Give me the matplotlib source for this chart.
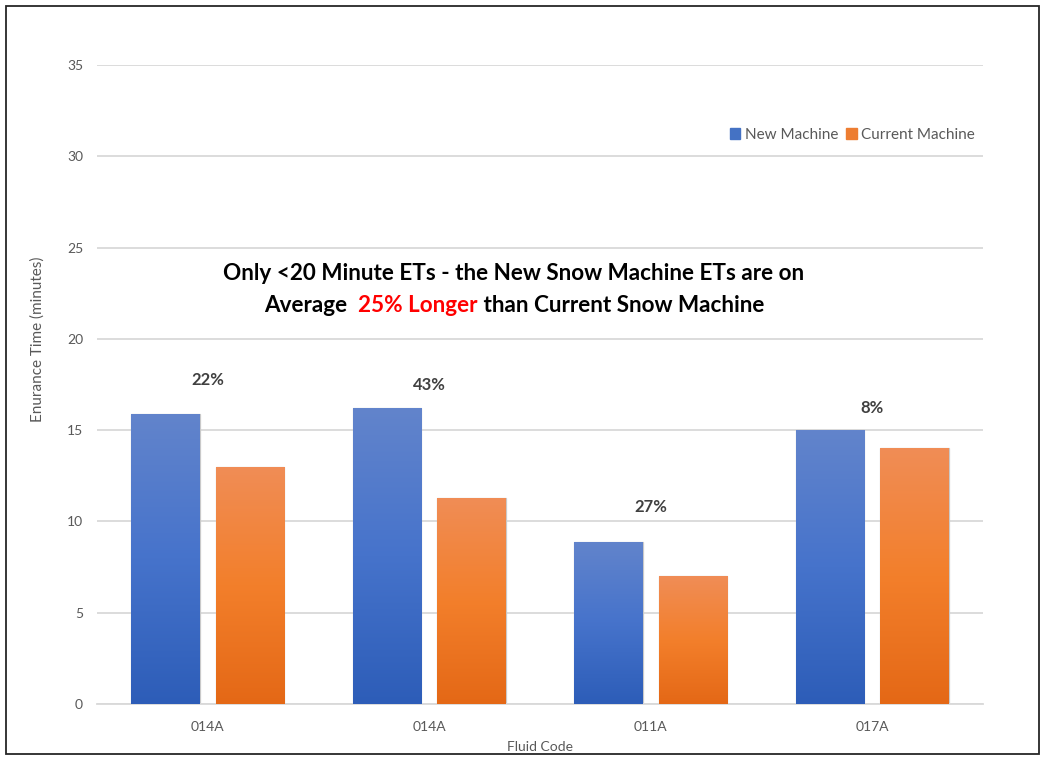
import numpy as np
import matplotlib
matplotlib.use("Agg")
import matplotlib.pyplot as plt
from matplotlib.colors import LinearSegmentedColormap
from matplotlib.patches import Rectangle

# Endurance times (minutes) per fluid code
fluid_codes = ["014A", "014A", "011A", "017A"]
new_machine = [15.9, 16.2, 8.9, 15.0]
current_machine = [13.0, 11.3, 7.0, 14.0]
improvement_labels = ["22%", "43%", "27%", "8%"]
y_ticks = [0, 5, 10, 15, 20, 25, 30, 35]
series_names = ["New Machine", "Current Machine"]

# vertical lift of each percentage label above its blue bar (points)
label_lift_pt = [24, 17, 25, 16]

plt.rcParams['font.family'] = ['Lato', 'DejaVu Sans']

W, H = 1042, 757
fig = plt.figure(figsize=(W / 100, H / 100), dpi=100)
ax = fig.add_axes([97 / W, 1 - 704 / H, (983 - 97) / W, (704 - 65) / H])

blue_cmap = LinearSegmentedColormap.from_list("blue", ["#2d5db8", "#4673cb", "#6284cc"])
orange_cmap = LinearSegmentedColormap.from_list("orange", ["#e46816", "#f37f2b", "#f08d56"])

x = np.arange(len(fluid_codes))
bar_w = 0.31
offset = 0.19


def gradient_bars(xpos, heights, cmap, face):
    bars = ax.bar(xpos, heights, width=bar_w, color=face, edgecolor="#c9c9c9",
                  linewidth=0.9, zorder=2)
    grad = np.linspace(0, 1, 256).reshape(-1, 1)
    for b in bars:
        x0, y0 = b.get_x(), b.get_y()
        w, h = b.get_width(), b.get_height()
        im = ax.imshow(grad, cmap=cmap, origin="lower", aspect="auto",
                       extent=(x0, x0 + w, y0, y0 + h), zorder=3)
        im.set_clip_path(b)
    return bars


gradient_bars(x - offset, new_machine, blue_cmap, "#4472c4")
gradient_bars(x + offset, current_machine, orange_cmap, "#ed7d31")

ax.set_xlim(-0.5, len(fluid_codes) - 0.5)
ax.set_ylim(0, 35)
ax.set_yticks(y_ticks)
ax.set_xticks(x)
ax.set_xticklabels(fluid_codes)

ax.yaxis.grid(True, color="#d9d9d9", linewidth=1.3, zorder=0)
ax.set_axisbelow(True)
for side in ["top", "right", "left"]:
    ax.spines[side].set_visible(False)
ax.spines["bottom"].set_color("#d9d9d9")
ax.spines["bottom"].set_linewidth(1.3)
ax.tick_params(axis="both", length=0, colors="#595959", labelsize=10)
ax.tick_params(axis="y", pad=10)
ax.tick_params(axis="x", pad=12)

ax.set_xlabel("Fluid Code", color="#595959", fontsize=10, labelpad=6)
ax.set_ylabel("Enurance Time (minutes)", color="#595959", fontsize=11)
ax.yaxis.set_label_coords(-52 / 886, (704 - 339) / (704 - 65))

# percentage improvement labels above each group
for xi, val, txt, lift in zip(x, new_machine, improvement_labels, label_lift_pt):
    ax.annotate(txt, xy=(xi, val), xytext=(0, lift), textcoords="offset points",
                ha="center", va="center", fontsize=12, fontweight="bold",
                color="#404040", zorder=5)

# legend
handles = [Rectangle((0, 0), 1, 1, color="#4472c4"), Rectangle((0, 0), 1, 1, color="#ed7d31")]
leg = ax.legend(handles, series_names, loc="center right", bbox_to_anchor=(978 / W, 1 - 135 / H),
                bbox_transform=fig.transFigure, ncol=2, frameon=False, fontsize=11,
                handlelength=0.7, handleheight=0.7, handletextpad=0.3, columnspacing=0.5,
                borderaxespad=0, borderpad=0.2, labelcolor="#595959")

# headline text, second line has a red highlighted segment
cx = 514 / W
fs_head = 16.2
fig.text(cx, 1 - 273 / H, "Only <20 Minute ETs - the New Snow Machine ETs are on",
         ha="center", va="center", fontsize=fs_head, fontweight="bold", color="black")

pieces = [("Average  ", "black"), ("25% Longer", "#ff0000"), (" than Current Snow Machine", "black")]
fig.canvas.draw()
renderer = fig.canvas.get_renderer()
texts = []
for s, c in pieces:
    t = fig.text(0, 1 - 306 / H, s, ha="left", va="center", fontsize=fs_head,
                 fontweight="bold", color=c)
    texts.append(t)
widths = [t.get_window_extent(renderer).width / W for t in texts]
total = sum(widths)
xpos = cx - total / 2
for t, w in zip(texts, widths):
    t.set_x(xpos)
    xpos += w

# outer frame
fig.patches.append(Rectangle((6 / W, 3 / H), (1039 - 6) / W, (751 - 3) / H,
                             transform=fig.transFigure, fill=False,
                             edgecolor="#262626", linewidth=1.3))

fig.savefig("out.png", dpi=100)
